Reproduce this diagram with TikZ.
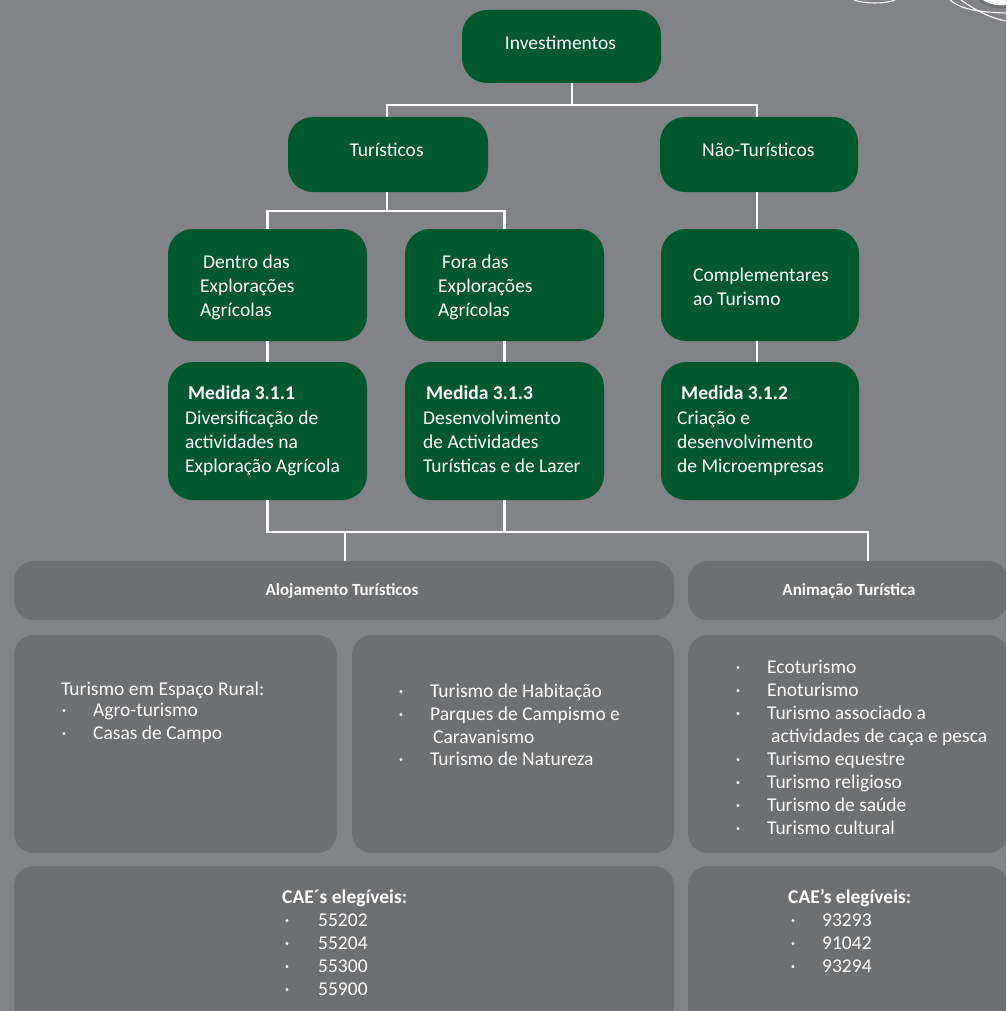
\documentclass[tikz,border=0pt]{standalone}
\usepackage{fontspec}
\setmainfont{Carlito}
\definecolor{bgc}{RGB}{130,131,135}
\definecolor{grn}{RGB}{0,88,46}
\definecolor{gbx}{RGB}{110,111,113}
\begin{document}
\begin{tikzpicture}[x=1pt,y=-1pt,
  gbox/.style={fill=grn, draw=none, rounded corners=25pt, inner sep=0pt},
  hbox/.style={fill=gbx, draw=none, rounded corners=20pt, inner sep=0pt},
  conn/.style={draw=white, line width=2.7pt},
  deco/.style={draw=white, line width=1.1pt},
  txt/.style={text=white, inner sep=0pt, anchor=base west, font=\fontsize{19.5}{23}\selectfont},
  btxt/.style={txt, font=\fontsize{19.5}{23}\selectfont\bfseries},
  ctxt/.style={txt, anchor=base},
  htxt/.style={text=white, inner sep=0pt, anchor=base, font=\fontsize{17}{20}\selectfont\bfseries},
  bul/.style={txt, anchor=base}]
\useasboundingbox (0,0) rectangle (1006,1011);
\clip (0,0) rectangle (1006,1011);
\fill[bgc] (0,0) rectangle (1006,1011);

% decoration top right
\draw[deco] (854,0) .. controls (865,4) and (885,4) .. (895,0);
\fill[bgc!88!black] (978,0) .. controls (986,8) and (1000,9) .. (1006,8) -- (1006,0) -- cycle;
\fill[white] (983,0) .. controls (990,5) and (1000,6) .. (1006,5) -- (1006,0) -- cycle;
\draw[deco] (950,0) .. controls (960,8) and (972,12) .. (1006,13);
\draw[deco] (961,0) .. controls (975,10) and (990,18) .. (1006,21);

% green boxes
\node[gbox, minimum width=199pt, minimum height=73pt] (inv) at (561.5,46.5) {};
\node[gbox, minimum width=200pt, minimum height=75pt] (tur) at (388,154.5) {};
\node[gbox, minimum width=198pt, minimum height=75pt] (ntur) at (759,154.5) {};
\node[gbox, minimum width=199pt, minimum height=112pt] (dentro) at (267.5,285) {};
\node[gbox, minimum width=199pt, minimum height=112pt] (fora) at (504.5,285) {};
\node[gbox, minimum width=198pt, minimum height=112pt] (compl) at (760,285) {};
\node[gbox, minimum width=199pt, minimum height=138pt] (m311) at (267.5,431) {};
\node[gbox, minimum width=199pt, minimum height=138pt] (m313) at (504.5,431) {};
\node[gbox, minimum width=198pt, minimum height=138pt] (m312) at (760,431) {};

% grey boxes
\node[hbox, minimum width=660pt, minimum height=59pt] (aloj) at (344,590.5) {};
\node[hbox, minimum width=320pt, minimum height=59pt] (anim) at (848,590.5) {};
\node[hbox, minimum width=323pt, minimum height=218pt] (c1) at (175.5,744) {};
\node[hbox, minimum width=322pt, minimum height=218pt] (c2) at (513,744) {};
\node[hbox, minimum width=320pt, minimum height=218pt] (c3) at (848,744) {};
\node[hbox, minimum width=660pt, minimum height=160pt] (cae1) at (344,946) {};
\node[hbox, minimum width=320pt, minimum height=160pt] (cae2) at (848,946) {};

% connectors
\coordinate (j1) at (572,105);
\coordinate (j2) at (387,211);
\coordinate (j3) at (504.5,532);
\draw[conn] ([xshift=10.5pt]inv.south) -- (j1);
\draw[conn] ([xshift=-1pt]tur.north) |- (j1) -| ([xshift=-2pt]ntur.north);
\draw[conn] ([xshift=-1pt]tur.south) -- (j2);
\draw[conn] (dentro.north) |- (j2) -| (fora.north);
\draw[conn] ([xshift=-2pt]ntur.south) -- ([xshift=-3pt]compl.north);
\draw[conn] (dentro.south) -- (m311.north);
\draw[conn] (fora.south) -- (m313.north);
\draw[conn] ([xshift=-3pt]compl.south) -- ([xshift=-3pt]m312.north);
\draw[conn] (m311.south) |- (j3) -| ([xshift=20pt]anim.north);
\draw[conn] (m313.south) -- (j3);
\draw[conn] ([xshift=1pt]aloj.north) -- ([xshift=1pt]aloj.north |- j3);

% green box texts
\node[ctxt] (tinv) at (560.5,49.5) {Investimentos};
\node[ctxt] (ttur) at (386.6,156.5) {Turísticos};
\node[ctxt] (tntur) at (758.3,156.5) {Não-Turísticos};
\node[txt] (td1) at (203,268.5) {Dentro das};
\node[txt] (td2) at (200,292.5) {Explorações};
\node[txt] (td3) at (200,316.5) {Agrícolas};
\node[txt] (tf1) at (442,268.5) {Fora das};
\node[txt] (tf2) at (438,292.5) {Explorações};
\node[txt] (tf3) at (438,316.5) {Agrícolas};
\node[txt] (tc1) at (693,281.5) {Complementares};
\node[txt] (tc2) at (693,305.5) {ao Turismo};
\node[btxt] (ta0) at (188,399.5) {Medida 3.1.1};
\node[txt] (ta1) at (185,424.5) {Diversificação de};
\node[txt] (ta2) at (185,448.5) {actividades na};
\node[txt] (ta3) at (185,472.5) {Exploração Agrícola};
\node[btxt] (tb0) at (426,399.5) {Medida 3.1.3};
\node[txt] (tb1) at (423,424.5) {Desenvolvimento};
\node[txt] (tb2) at (423,448.5) {de Actividades};
\node[txt] (tb3) at (423,472.5) {Turísticas e de Lazer};
\node[btxt] (tm0) at (681,399.5) {Medida 3.1.2};
\node[txt] (tm1) at (677,424.5) {Criação e};
\node[txt] (tm2) at (677,448.5) {desenvolvimento};
\node[txt] (tm3) at (677,472.5) {de Microempresas};

% grey box texts
\node[htxt] (taloj) at (342,595.5) {Alojamento Turísticos};
\node[htxt] (tanim) at (849,595.5) {Animação Turística};

\node[txt] (p0) at (61,695.5) {Turismo em Espaço Rural:};
\node[bul] (pb1) at (64,716.5) {·};
\node[txt] (p1) at (93,716.5) {Agro-turismo};
\node[bul] (pb2) at (64,739.5) {·};
\node[txt] (p2) at (93,739.5) {Casas de Campo};

\node[bul] (qb1) at (401,697.5) {·};
\node[txt] (q1) at (430,697.5) {Turismo de Habitação};
\node[bul] (qb2) at (401,720.5) {·};
\node[txt] (q2) at (430,720.5) {Parques de Campismo e};
\node[txt] (q3) at (433,743.5) {Caravanismo};
\node[bul] (qb4) at (401,765.5) {·};
\node[txt] (q4) at (430,765.5) {Turismo de Natureza};

\node[bul] (rb1) at (738,673.5) {·};
\node[txt] (r1) at (767,673.5) {Ecoturismo};
\node[bul] (rb2) at (738,696.5) {·};
\node[txt] (r2) at (767,696.5) {Enoturismo};
\node[bul] (rb3) at (738,719.5) {·};
\node[txt] (r3) at (767,719.5) {Turismo associado a};
\node[txt] (r4) at (771,742.5) {actividades de caça e pesca};
\node[bul] (rb5) at (738,765.5) {·};
\node[txt] (r5) at (767,765.5) {Turismo equestre};
\node[bul] (rb6) at (738,788.5) {·};
\node[txt] (r6) at (767,788.5) {Turismo religioso};
\node[bul] (rb7) at (738,811.5) {·};
\node[txt] (r7) at (767,811.5) {Turismo de saúde};
\node[bul] (rb8) at (738,834.5) {·};
\node[txt] (r8) at (767,834.5) {Turismo cultural};

\node[btxt] (s0) at (282,903.5) {CAE´s elegíveis:};
\node[bul] (sb1) at (287,926.5) {·};
\node[txt] (s1) at (318,926.5) {55202};
\node[bul] (sb2) at (287,949.5) {·};
\node[txt] (s2) at (318,949.5) {55204};
\node[bul] (sb3) at (287,972.5) {·};
\node[txt] (s3) at (318,972.5) {55300};
\node[bul] (sb4) at (287,995.5) {·};
\node[txt] (s4) at (318,995.5) {55900};

\node[btxt] (u0) at (788,903.5) {CAE’s elegíveis:};
\node[bul] (ub1) at (793,926.5) {·};
\node[txt] (u1) at (822,926.5) {93293};
\node[bul] (ub2) at (793,949.5) {·};
\node[txt] (u2) at (822,949.5) {91042};
\node[bul] (ub3) at (793,972.5) {·};
\node[txt] (u3) at (822,972.5) {93294};
\end{tikzpicture}
\end{document}
